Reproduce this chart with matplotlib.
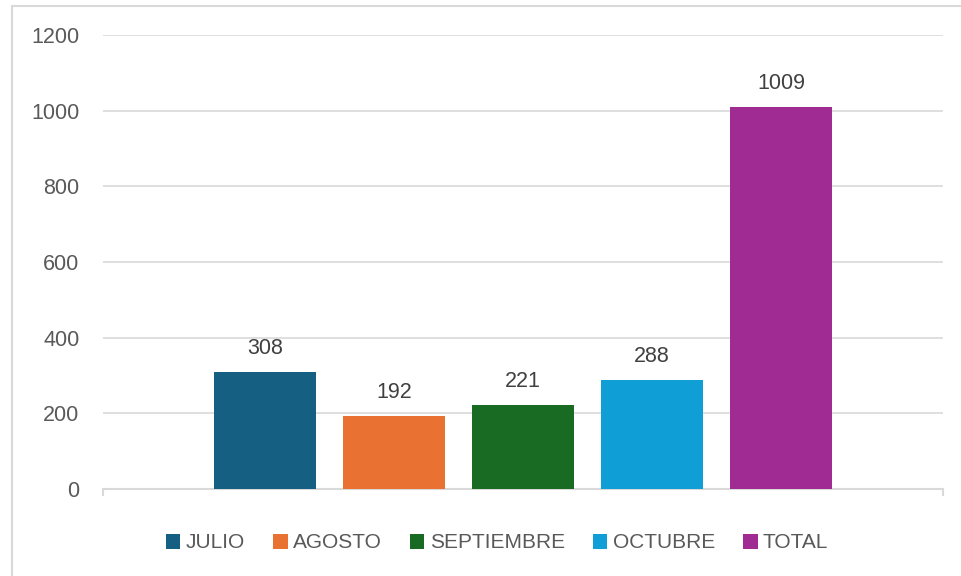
import matplotlib.pyplot as plt
from matplotlib.patches import Patch, Rectangle

plt.rcParams['font.family'] = ['Liberation Sans', 'DejaVu Sans']

meses = ["JULIO", "AGOSTO", "SEPTIEMBRE", "OCTUBRE", "TOTAL"]
valores = [308, 192, 221, 288, 1009]
colores = ["#156082", "#E97132", "#196B24", "#0F9ED5", "#A02B93"]
yticks = [0, 200, 400, 600, 800, 1000, 1200]

W, H = 962, 576
fig = plt.figure(figsize=(W / 100, H / 100), dpi=100)
txt = "#595959"
gris = "#D9D9D9"

# chart border (only top and left edges visible)
fig.patches.append(Rectangle((12 / W, -0.1), 2, (H - 6) / H + 0.1,
                             transform=fig.transFigure, fill=False,
                             edgecolor=gris, linewidth=1.5))

ax = fig.add_axes([103 / W, (H - 489) / H, 840 / W, 454 / H])
x = list(range(len(meses)))
bars = ax.bar(x, valores, width=0.79, color=colores, zorder=3)

for xi, v in zip(x, valores):
    ax.annotate(str(v), (xi, v), xytext=(0, 17), textcoords="offset points",
                ha="center", va="center", fontsize=15.5, color="#404040")

ax.set_xlim(-1.256, 5.256)
ax.set_ylim(0, 1200)
ax.set_yticks(yticks)
ax.set_yticklabels([str(t) for t in yticks])
ax.tick_params(axis="y", length=0, pad=17, labelsize=15.5, labelcolor=txt)
ax.set_xticks([-1.256, 5.256])
ax.set_xticklabels([])
ax.tick_params(axis="x", length=5, width=1.5, color=gris, direction="out")
ax.grid(axis="y", color=gris, linewidth=1.2, zorder=0)
for s in ["top", "right", "left"]:
    ax.spines[s].set_visible(False)
ax.spines["bottom"].set_color(gris)
ax.spines["bottom"].set_linewidth(1.5)

handles = [Patch(facecolor=c, edgecolor="none") for c in colores]
fig.legend(handles, meses, loc="center", bbox_to_anchor=(497 / W, 1 - 543 / H),
           ncol=5, frameon=False, fontsize=15, labelcolor=txt,
           handlelength=0.7, handleheight=0.7, handletextpad=0.25,
           columnspacing=1.35)

fig.savefig("out.png", dpi=100)
